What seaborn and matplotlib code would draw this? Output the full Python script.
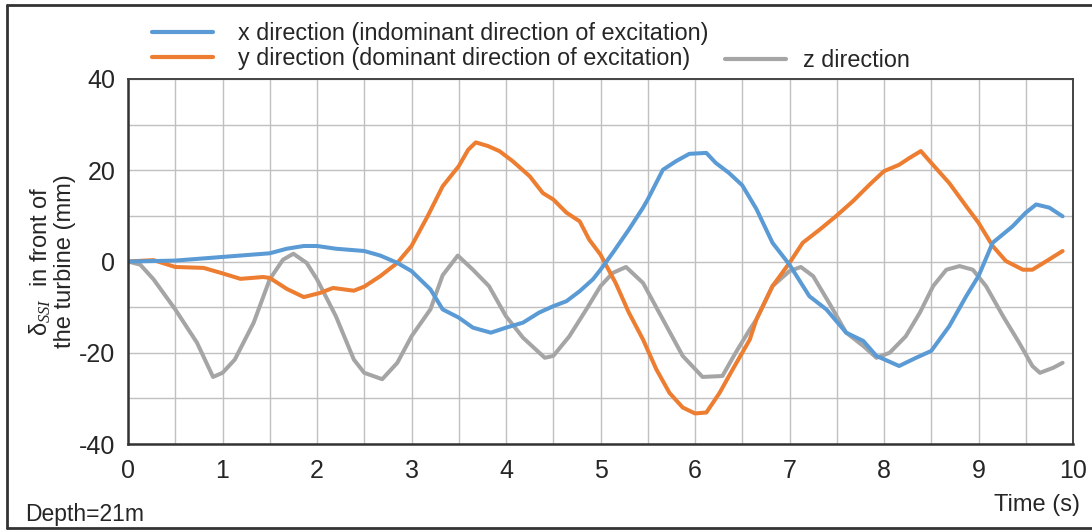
import numpy as np
import pandas as pd
import matplotlib
matplotlib.use("Agg")
import matplotlib.pyplot as plt
import seaborn as sns
from matplotlib.lines import Line2D

# x direction (indominant)
t_x = [0, 0.27, 0.5, 1.0, 1.5, 1.68, 1.86, 2.0, 2.2, 2.5, 2.67, 2.85, 3.0, 3.2, 3.33, 3.5,
       3.65, 3.84, 4.0, 4.18, 4.35, 4.5, 4.64, 4.78, 4.92, 5.0, 5.13, 5.3, 5.45, 5.5, 5.66,
       5.8, 5.94, 6.12, 6.22, 6.36, 6.5, 6.65, 6.82, 7.0, 7.21, 7.39, 7.6, 7.78, 7.92, 8.16,
       8.34, 8.5, 8.69, 8.87, 9.0, 9.15, 9.36, 9.5, 9.61, 9.75, 9.89]
v_x = [0, 0.1, 0.2, 1.0, 1.8, 2.8, 3.4, 3.4, 2.8, 2.3, 1.3, -0.3, -2.1, -6.1, -10.5, -12.3,
       -14.5, -15.6, -14.5, -13.4, -11.2, -9.8, -8.7, -6.5, -3.9, -1.8, 1.9, 7.0, 11.8, 13.6, 20.1,
       22.0, 23.6, 23.8, 21.6, 19.4, 16.7, 11.5, 4.1, -0.7, -7.6, -10.5, -15.6, -17.4, -20.7, -22.9,
       -21.1, -19.6, -14.2, -7.6, -3.2, 4.1, 7.7, 10.7, 12.5, 11.8, 9.9]

# y direction (dominant)
t_y = [0, 0.27, 0.5, 0.8, 1.0, 1.19, 1.43, 1.5, 1.68, 1.86, 2.03, 2.17, 2.39, 2.5, 2.67, 2.85,
       3.0, 3.17, 3.33, 3.5, 3.6, 3.68, 3.81, 3.93, 4.07, 4.25, 4.39, 4.5, 4.64, 4.78, 4.88,
       5.0, 5.16, 5.3, 5.45, 5.59, 5.73, 5.87, 6.0, 6.12, 6.26, 6.4, 6.58, 6.65, 6.82, 7.0,
       7.14, 7.32, 7.49, 7.67, 7.85, 8.0, 8.16, 8.27, 8.39, 8.5, 8.69, 8.87, 9.0, 9.15, 9.29,
       9.47, 9.57, 9.72, 9.89]
v_y = [0, 0.3, -1.2, -1.4, -2.6, -3.8, -3.4, -3.6, -6.0, -7.8, -6.9, -5.8, -6.4, -5.5, -3.2, -0.3,
       3.4, 9.9, 16.5, 20.9, 24.5, 26.1, 25.3, 24.2, 22.0, 18.7, 15.0, 13.6, 10.7, 8.8, 4.8,
       1.5, -4.7, -11.2, -17.1, -23.6, -28.8, -32.0, -33.3, -33.1, -28.8, -23.6, -17.1, -12.7, -5.4, -0.3,
       4.1, 7.0, 9.9, 13.2, 16.9, 19.8, 21.2, 22.7, 24.2, 21.6, 17.2, 12.1, 8.5, 3.4, 0.1,
       -1.8, -1.8, 0.1, 2.3]

# z direction
t_z = [0, 0.13, 0.27, 0.5, 0.73, 0.9, 1.0, 1.13, 1.33, 1.5, 1.64, 1.75, 1.89, 2.0, 2.2, 2.39,
       2.5, 2.69, 2.85, 3.0, 3.2, 3.33, 3.49, 3.65, 3.82, 4.0, 4.18, 4.41, 4.5, 4.67, 4.85,
       5.0, 5.13, 5.27, 5.45, 5.66, 5.87, 6.08, 6.29, 6.43, 6.58, 6.65, 6.82, 7.0, 7.12, 7.25,
       7.42, 7.6, 7.78, 7.92, 8.06, 8.23, 8.38, 8.52, 8.66, 8.8, 8.94, 9.08, 9.26, 9.43, 9.57,
       9.65, 9.79, 9.89]
v_z = [0, -0.7, -3.9, -10.5, -17.8, -25.3, -24.4, -21.5, -13.4, -3.9, 0.4, 1.7, -0.3, -3.9, -12.0, -21.5,
       -24.4, -25.8, -22.2, -16.4, -10.5, -3.0, 1.3, -1.8, -5.4, -12.0, -16.7, -21.1, -20.7, -16.4, -10.5,
       -5.4, -2.5, -1.2, -4.7, -12.7, -20.7, -25.3, -25.1, -20.0, -14.9, -12.7, -5.4, -2.1, -1.2, -3.2,
       -9.1, -15.6, -18.5, -21.1, -20.0, -16.4, -11.2, -5.4, -1.8, -1.0, -1.8, -5.4, -12.0, -17.8, -22.9,
       -24.4, -23.3, -22.2]

labels = ["x direction (indominant direction of excitation)",
          "y direction (dominant direction of excitation)",
          "z direction"]
colors = ["#5b9bd5", "#ed7d31", "#a5a5a5"]

sns.set_style("white")
plt.rcParams['font.family'] = ['Liberation Sans', 'DejaVu Sans']
plt.rcParams['mathtext.fontset'] = 'custom'
plt.rcParams['mathtext.it'] = 'Liberation Serif:italic'
plt.rcParams['mathtext.rm'] = 'Liberation Sans'
plt.rcParams['axes.unicode_minus'] = False

fig = plt.figure(figsize=(10.92, 5.31), dpi=100)
ax = fig.add_axes([128 / 1092, 1 - 444 / 531, (1073 - 128) / 1092, (444 - 79) / 531])

series = [(t_x, v_x), (t_y, v_y), (t_z, v_z)]
# grey drawn first so it sits behind the others
for i in [2, 1, 0]:
    t, v = series[i]
    df = pd.DataFrame({'t': t, 'v': v})
    sns.lineplot(data=df, x='t', y='v', ax=ax, color=colors[i], linewidth=2.9,
                 sort=False, estimator=None, solid_joinstyle='round', solid_capstyle='round')

ax.set_xlim(0, 10)
ax.set_ylim(-40, 40)
ax.set_xticks(np.arange(0, 11, 1))
ax.set_yticks([-40, -20, 0, 20, 40])
ax.set_xticks(np.arange(0, 10.01, 0.5), minor=True)
ax.set_yticks(np.arange(-40, 40.01, 10), minor=True)
ax.grid(True, which='both', color='#c0c0c0', linewidth=1.0)
ax.set_axisbelow(True)
ax.tick_params(which='major', direction='out', length=6, width=1.5, color='#333333',
               labelsize=18, pad=3)
ax.tick_params(axis='x', which='major', pad=5)
ax.tick_params(which='minor', length=0)
for s in ['left', 'bottom']:
    ax.spines[s].set_linewidth(1.8)
    ax.spines[s].set_color('#333333')
for s in ['top', 'right']:
    ax.spines[s].set_linewidth(1.4)
    ax.spines[s].set_color('#444444')

ax.set_xlabel('')
ax.set_ylabel("δ$_{SSI}$  in front of\nthe turbine (mm)", fontsize=17, labelpad=2,
              linespacing=1.05)

fig.text(1080 / 1092, 1 - 505 / 531, 'Time (s)', fontsize=17, ha='right', va='center')
fig.text(25 / 1092, 1 - 515 / 531, 'Depth=21m', fontsize=16.5, ha='left', va='center')

handles = [Line2D([], [], color=c, linewidth=3.0) for c in colors]
fig.legend(handles[:2], labels[:2], loc='upper left',
           bbox_to_anchor=(152 / 1092, 1 - 22 / 531), frameon=False, fontsize=16.8,
           handlelength=2.6, handletextpad=1.1, labelspacing=0.1, borderaxespad=0,
           borderpad=0)
fig.legend(handles[2:], labels[2:], loc='upper left',
           bbox_to_anchor=(725 / 1092, 1 - 49 / 531), frameon=False, fontsize=16.8,
           handlelength=2.6, handletextpad=0.75, borderaxespad=0, borderpad=0)

# outer frame
for xs, ys in [([7, 1092], [5, 5]), ([7, 7], [5, 528]), ([7, 1092], [528, 528])]:
    fig.add_artist(Line2D([x / 1092 for x in xs], [1 - y / 531 for y in ys],
                          transform=fig.transFigure, color='#333333', linewidth=2))

fig.savefig('out.png', dpi=100)
